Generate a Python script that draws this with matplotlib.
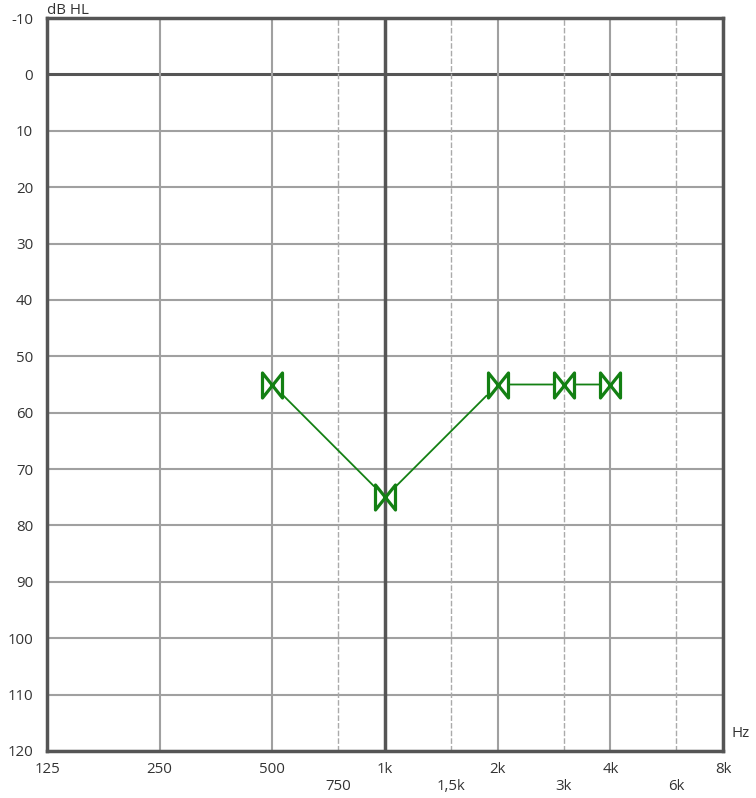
import numpy as np
import matplotlib.pyplot as plt
from matplotlib.path import Path

plt.rcParams['font.family'] = ['Open Sans', 'DejaVu Sans']

# audiogram values
freqs = [500, 1000, 2000, 3000, 4000]
levels = [55, 75, 55, 55, 55]

octave_ticks = [125, 250, 500, 1000, 2000, 4000, 8000]
octave_labels = ['125', '250', '500', '1k', '2k', '4k', '8k']
mid_ticks = [750, 1500, 3000, 6000]
mid_labels = ['750', '1,5k', '3k', '6k']
db_ticks = list(range(-10, 121, 10))

dark = '#555555'
grid = '#a0a0a0'
green = '#138013'
txt = '#333333'
fs = 10.8
dpi = 100

# bow-tie marker (two triangles meeting at the centre)
w = 0.8
ms = 18
bowtie = Path([(-w, 1), (0, 0), (w, 1), (w, -1), (0, 0), (-w, -1), (-w, 1)],
              [Path.MOVETO, Path.LINETO, Path.LINETO, Path.LINETO,
               Path.LINETO, Path.LINETO, Path.CLOSEPOLY])

fig = plt.figure(figsize=(7.56, 7.98), dpi=dpi)
ax = fig.add_axes([47/756, 1-751/798, 676/756, 733/798])
ax.set_xscale('log')
ax.set_xlim(125, 8000)
ax.set_ylim(120, -10)

for d in db_ticks:
    if d == 0:
        ax.axhline(d, color=dark, lw=2.2, zorder=1)
    else:
        ax.axhline(d, color=grid, lw=1.5, zorder=1)
for f in octave_ticks:
    if f == 1000:
        ax.axvline(f, color=dark, lw=2.5, zorder=1)
    else:
        ax.axvline(f, color=grid, lw=1.5, zorder=1)
for f in mid_ticks:
    ax.axvline(f, color='#aaaaaa', lw=1.0, ls=(0, (4, 1.5)), zorder=1)

# connecting lines stop at the marker outline
hh = ms / 2.0 + 1.0
hw = hh * w
for i in range(len(freqs) - 1):
    p1 = ax.transData.transform((freqs[i], levels[i]))
    p2 = ax.transData.transform((freqs[i + 1], levels[i + 1]))
    d = (p2 - p1) * 72.0 / dpi
    n = np.hypot(*d)
    ux, uy = abs(d[0]) / n, abs(d[1]) / n
    s = min(hw / ux if ux > 0 else 1e9, hh / uy if uy > 0 else 1e9)
    ax.annotate('', xy=(freqs[i + 1], levels[i + 1]), xytext=(freqs[i], levels[i]),
                arrowprops=dict(arrowstyle='-', color=green, lw=1.3,
                                shrinkA=s, shrinkB=s), zorder=3)

ax.plot(freqs, levels, ls='none', marker=bowtie, ms=ms, mfc='none',
        mec=green, mew=2.3, zorder=4)

for sp in ax.spines.values():
    sp.set_color(dark)
    sp.set_linewidth(2.5)

ax.set_yticks(db_ticks)
ax.set_yticklabels([str(d) for d in db_ticks])
ax.set_xticks([])
ax.minorticks_off()
ax.tick_params(axis='y', length=0, pad=10, labelsize=fs, colors=txt)

for f, lab in zip(octave_ticks, octave_labels):
    ax.text(f, 122.0, lab, ha='center', va='top', fontsize=fs, color=txt)
for f, lab in zip(mid_ticks, mid_labels):
    ax.text(f, 124.9, lab, ha='center', va='top', fontsize=fs, color=txt)

ax.text(0.0, 1.0, 'dB HL', transform=ax.transAxes, ha='left', va='bottom',
        fontsize=fs, color=txt)
ax.text(1.012, 0.0135, 'Hz', transform=ax.transAxes, ha='left', va='bottom',
        fontsize=fs, color=txt)

fig.savefig('out.png', dpi=dpi)
